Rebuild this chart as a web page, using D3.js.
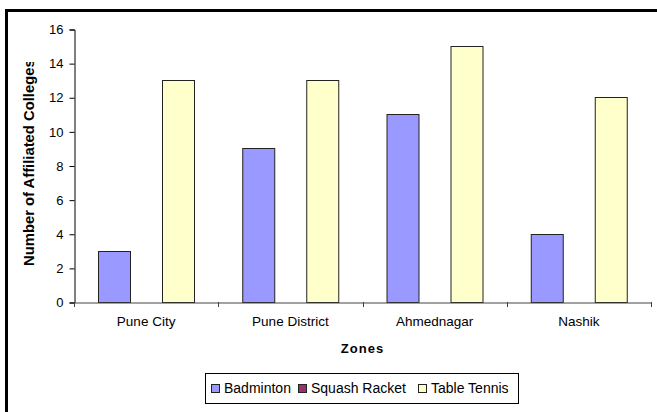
<!DOCTYPE html>
<html>
<head>
<meta charset="utf-8">
<script src="https://cdn.jsdelivr.net/npm/d3@7"></script>
<style>
  body { margin: 0; background: #fff; overflow: hidden; }
  svg { display: block; font-family: "Liberation Sans", Arial, sans-serif; }
</style>
</head>
<body>
<svg width="657" height="412"></svg>
<script>
// chart data
const zones = ["Pune City", "Pune District", "Ahmednagar", "Nashik"];
const seriesNames = ["Badminton", "Squash Racket", "Table Tennis"];
const badminton = [3, 9, 11, 4];
const squash = [0, 0, 0, 0];
const tableTennis = [13, 13, 15, 12];
const yTicks = [0, 2, 4, 6, 8, 10, 12, 14, 16];

const colors = ["#9999ff", "#993366", "#ffffcc"];
const seriesValues = [badminton, squash, tableTennis];

const svg = d3.select("svg");

// outer frame: only top and left edges show in the picture
svg.append("path")
  .attr("d", "M6.5,420 V10.5 H670")
  .attr("fill", "none")
  .attr("stroke", "#000")
  .attr("stroke-width", 3);

const plotLeft = 74, plotRight = 651, plotTop = 29, plotBottom = 302;

const x = d3.scaleBand()
  .domain(zones)
  .range([plotLeft, plotRight])
  .paddingInner(0)
  .paddingOuter(0);

const y = d3.scaleLinear()
  .domain([0, 16])
  .range([plotBottom, plotTop]);

// bars, bar width = band / 4.5 (gap width 150%)
const barW = x.bandwidth() / 4.5;
const groups = svg.selectAll("g.zone")
  .data(zones)
  .enter().append("g")
  .attr("class", "zone")
  .attr("transform", d => `translate(${x(d)},0)`);

groups.each(function(z, i) {
  const g = d3.select(this);
  seriesNames.forEach((s, j) => {
    const v = seriesValues[j][i];
    g.append("rect")
      .attr("x", Math.round(0.75 * barW + j * barW) + 0.5)
      .attr("y", Math.round(y(v)) + 0.5)
      .attr("width", Math.round(barW))
      .attr("height", Math.max(0, Math.round(y(0)) - Math.round(y(v))))
      .attr("fill", colors[j])
      .attr("stroke", "#222")
      .attr("stroke-width", 1);
  });
});

// y axis
const yAxis = svg.append("g")
  .attr("transform", `translate(${plotLeft + 0.5},0.5)`)
  .call(d3.axisLeft(y).tickValues(yTicks).tickSize(5).tickPadding(6));
yAxis.select(".domain").attr("stroke", "#000");
yAxis.selectAll(".tick line").attr("stroke", "#000");
yAxis.selectAll("text")
  .attr("fill", "#000")
  .style("font-size", "13px")
  .style("font-family", "'Liberation Sans', Arial, sans-serif");

// x axis
const xAxis = svg.append("g")
  .attr("transform", `translate(0,${plotBottom + 0.5})`)
  .call(d3.axisBottom(x).tickSize(0).tickPadding(14).tickSizeOuter(0));
xAxis.select(".domain").attr("stroke", "#444");
xAxis.selectAll("text")
  .attr("fill", "#000")
  .style("font-size", "13.5px")
  .style("font-family", "'Liberation Sans', Arial, sans-serif");

// x category separators
const sepPos = zones.map(z => x(z)).concat([plotRight]);
svg.append("g").selectAll("line")
  .data(sepPos)
  .enter().append("line")
  .attr("x1", d => Math.round(d) + 0.5).attr("x2", d => Math.round(d) + 0.5)
  .attr("y1", plotBottom).attr("y2", plotBottom + 5)
  .attr("stroke", "#444");

// axis titles
svg.append("text")
  .attr("x", (plotLeft + plotRight) / 2)
  .attr("y", 353)
  .attr("text-anchor", "middle")
  .style("font-size", "13px")
  .style("font-weight", "bold")
  .style("letter-spacing", "1px")
  .text("Zones");

svg.append("clipPath").attr("id", "yclip")
  .append("rect").attr("x", 0).attr("y", 62).attr("width", 60).attr("height", 300);

svg.append("g")
  .attr("clip-path", "url(#yclip)")
  .append("text")
  .attr("transform", "translate(33.5,266) rotate(-90)")
  .attr("text-anchor", "start")
  .style("font-size", "14.8px")
  .style("font-weight", "bold")
  .text("Number of Affiliated Colleges");

// legend
const legend = svg.append("g");
legend.append("rect")
  .attr("x", 205.5).attr("y", 373.5)
  .attr("width", 313).attr("height", 30)
  .attr("fill", "#fff")
  .attr("stroke", "#000");

const legendX = [211, 298, 418];
seriesNames.forEach((s, j) => {
  legend.append("rect")
    .attr("x", legendX[j] + 0.5).attr("y", 384.5)
    .attr("width", 8).attr("height", 8)
    .attr("fill", colors[j])
    .attr("stroke", "#222");
  legend.append("text")
    .attr("x", legendX[j] + 13)
    .attr("y", 393)
    .style("font-size", "14px")
    .text(s);
});
</script>
</body>
</html>
